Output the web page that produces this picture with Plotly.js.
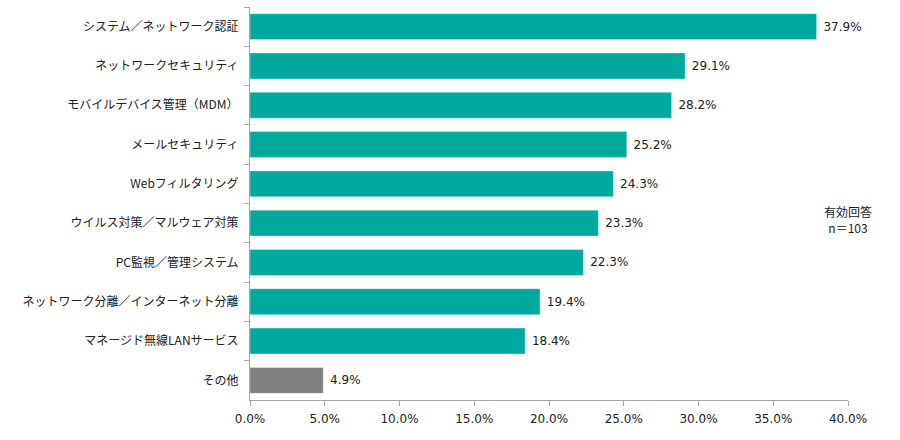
<!DOCTYPE html>
<html><head><meta charset="utf-8">
<script src="https://cdn.plot.ly/plotly-3.0.1.min.js"></script>
<style>html,body{margin:0;padding:0;background:#fff}</style>
</head><body>
<div id="chart" style="width:900px;height:440px"></div>
<script>
var categories = ["システム／ネットワーク認証","ネットワークセキュリティ","モバイルデバイス管理（MDM）","メールセキュリティ","Webフィルタリング","ウイルス対策／マルウェア対策","PC監視／管理システム","ネットワーク分離／インターネット分離","マネージド無線LANサービス","その他"];
var values = [37.9, 29.1, 28.2, 25.2, 24.3, 23.3, 22.3, 19.4, 18.4, 4.9];
var tickVals = [0,5,10,15,20,25,30,35,40];
var tickText = ["0.0%","5.0%","10.0%","15.0%","20.0%","25.0%","30.0%","35.0%","40.0%"];
var note = "有効回答<br>n＝103";

var colors = categories.map(function(c){ return c === "その他" ? "#808080" : "#00A99D"; });
var font = "'DejaVu Sans', 'Noto Sans CJK JP', sans-serif";

Plotly.newPlot("chart", [{
  type: "bar",
  orientation: "h",
  y: categories,
  x: values,
  marker: {color: colors, line: {color: "rgba(255,255,255,0.35)", width: 1}},
  text: values.map(function(v){ return "\u00a0" + v.toFixed(1) + "%"; }),
  textposition: "outside",
  textfont: {family: font, size: 12, color: "#222"},
  cliponaxis: false,
  hoverinfo: "none"
}], {
  width: 900, height: 440,
  margin: {l: 250, r: 52, t: 7, b: 40},
  paper_bgcolor: "#fff", plot_bgcolor: "#fff",
  bargap: 0.34,
  showlegend: false,
  font: {family: font, size: 12, color: "#222"},
  xaxis: {
    range: [0, 40], tickvals: tickVals, ticktext: tickText,
    showgrid: false, zeroline: false,
    showline: true, linecolor: "#a6a6a6", linewidth: 1,
    ticks: "outside", ticklen: 5, tickcolor: "#a6a6a6",
    ticklabelstandoff: 3,
    tickfont: {family: font, size: 12, color: "#222"}, fixedrange: true
  },
  yaxis: {
    type: "category", autorange: "reversed",
    showgrid: false, zeroline: false,
    showline: true, linecolor: "#a6a6a6", linewidth: 1,
    ticks: "outside", ticklen: 5, tickcolor: "#a6a6a6", tickson: "boundaries",
    ticklabelstandoff: 8,
    tickfont: {family: "'Noto Sans CJK JP', 'DejaVu Sans', sans-serif", size: 12, color: "#222"}, fixedrange: true
  },
  annotations: [{
    xref: "paper", yref: "paper", x: 1.0, y: 0.46,
    xanchor: "center", yanchor: "middle",
    text: note, showarrow: false, align: "center",
    font: {family: "'Noto Sans CJK JP', 'DejaVu Sans', sans-serif", size: 12, color: "#222"}
  }]
}, {displayModeBar: false, staticPlot: true});
</script>
</body></html>
